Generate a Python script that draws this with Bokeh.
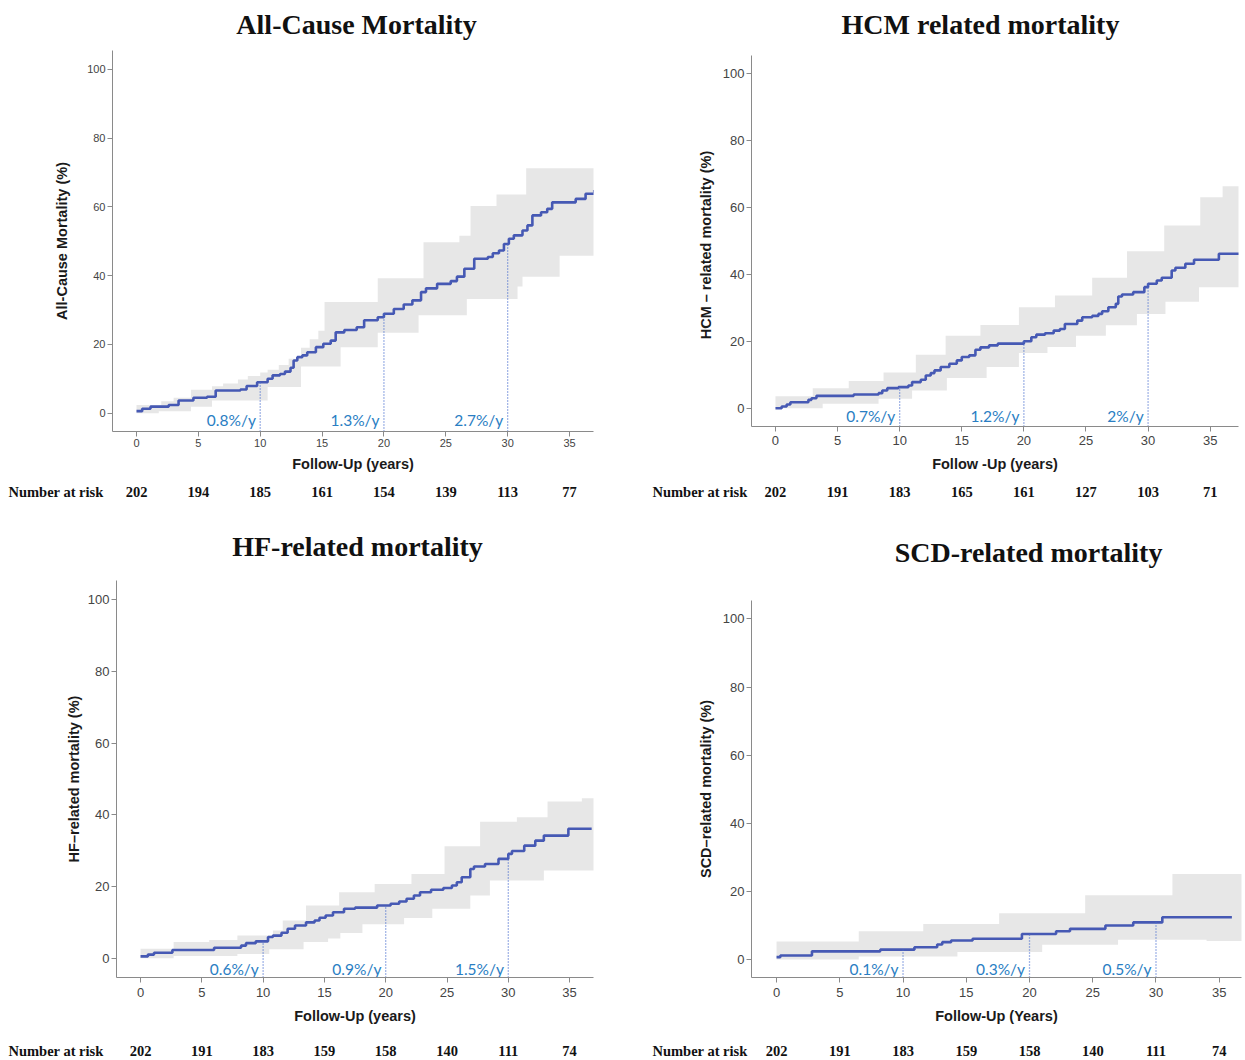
import numpy as np
from bokeh.plotting import figure
from bokeh.models import Range1d, FixedTicker
from bokeh.layouts import row, column
from bokeh.embed import file_html
from bokeh.resources import INLINE
from bokeh.core.properties import value

# ---------------- data ----------------
x_ticks = [0, 5, 10, 15, 20, 25, 30, 35]
y_ticks = [0, 20, 40, 60, 80, 100]
rate_years = [10, 20, 30]

# All-cause mortality
ac_t = [0, 0.46, 1.13, 2.6, 3.4, 4.6, 5.7, 6.4, 8.4, 8.9, 9.75, 10.6, 11.0, 11.6, 12.0, 12.45, 12.7, 13.0,
        13.4, 13.8, 14.5, 15.1, 15.7, 16.1, 16.8, 17.8, 18.4, 19.5, 20.0, 20.8, 21.6, 22.3, 23.0, 23.4, 24.3,
        25.4, 25.9, 26.5, 27.3, 28.4, 28.8, 29.3, 29.7, 30.1, 30.5, 31.2, 31.6, 32.0, 32.7, 33.2, 33.6, 35.5,
        36.3, 37.0]
ac_y = [0.6, 1.3, 1.9, 2.4, 3.7, 4.5, 4.8, 6.6, 6.9, 7.9, 9.0, 10.0, 11.0, 11.4, 12.1, 13.2, 15.3, 16.3,
        16.8, 17.7, 19.2, 20.2, 21.1, 23.5, 24.2, 25.0, 27.0, 27.9, 28.9, 30.3, 31.6, 32.8, 35.2, 36.3, 37.6,
        38.4, 39.7, 42.0, 44.9, 45.4, 46.5, 47.3, 49.2, 50.7, 51.7, 53.1, 54.6, 57.5, 58.4, 59.4, 61.3, 62.3,
        63.8, 64.9]
ac_band_t = [0, 1.8, 2.0, 3.0, 4.4, 6.1, 7.0, 8.2, 9.0, 10.0, 10.6, 11.5, 12.3, 13.3, 14.0, 14.7, 15.2, 16.5,
             19.5, 22.8, 23.2, 26.1, 26.7, 27.0, 29.1, 30.8, 31.2, 31.5, 34.2, 37.2]
ac_lo = [0, 0.6, 0.6, 0.6, 1.9, 3.7, 3.7, 3.7, 3.7, 3.7, 7.6, 7.6, 7.6, 13.6, 13.6, 13.6, 13.6, 19.2,
         23.4, 28.5, 28.5, 28.5, 33.2, 33.2, 33.2, 36.8, 39.7, 39.7, 45.8, 45.8]
ac_hi = [2.4, 2.4, 3.5, 4.5, 6.8, 7.8, 8.6, 9.8, 10.8, 11.8, 12.6, 14.0, 15.8, 19.0, 21.5, 24.0, 32.3, 32.3,
         39.2, 39.2, 49.7, 51.6, 51.6, 60.2, 63.6, 63.6, 63.6, 71.2, 71.2, 71.2]
ac_rates = ["0.8%/y", "1.3%/y", "2.7%/y"]
ac_risk = ["202", "194", "185", "161", "154", "139", "113", "77"]

# HCM related mortality
hcm_t = [0, 0.5, 0.9, 1.2, 2.65, 2.9, 3.3, 6.3, 8.3, 8.6, 9.0, 9.9, 10.7, 11.0, 11.7, 12.1, 12.5, 12.8, 13.3,
         14.0, 14.6, 15.0, 15.6, 16.1, 16.5, 17.2, 17.9, 20.0, 20.6, 21.0, 21.7, 22.4, 22.9, 23.3, 24.3, 24.7,
         25.5, 26.0, 26.3, 26.8, 27.4, 27.6, 27.9, 28.8, 29.7, 30.0, 30.7, 31.1, 31.9, 32.2, 33.0, 33.7, 35.7,
         37.5]
hcm_y = [0, 0.5, 1.1, 1.8, 2.5, 3.0, 3.7, 4.1, 4.5, 5.3, 6.0, 6.3, 6.8, 7.8, 8.5, 9.8, 10.5, 11.3, 12.3,
         13.3, 14.3, 15.3, 15.8, 17.5, 18.2, 18.8, 19.3, 20.0, 21.2, 22.0, 22.4, 23.2, 23.7, 25.2, 26.2, 27.2,
         27.6, 28.2, 29.0, 30.2, 31.2, 33.4, 34.0, 34.7, 36.2, 37.2, 38.2, 39.0, 41.2, 42.0, 43.2, 44.4, 46.2,
         46.2]
hcm_band_t = [0, 3.0, 3.8, 5.9, 8.3, 8.7, 11.0, 11.3, 13.7, 13.8, 16.5, 17.0, 19.6, 21.9, 22.5, 24.2, 25.5,
              26.6, 28.3, 29.1, 31.3, 31.4, 34.1, 34.2, 36.0, 37.5]
hcm_lo = [0, 0, 1.3, 1.3, 2.8, 2.8, 5.3, 5.3, 5.3, 9.0, 9.0, 12.3, 16.5, 18.3, 18.3, 21.7, 21.7,
          24.8, 24.8, 28.2, 28.2, 31.8, 36.2, 36.2, 36.2, 36.2]
hcm_hi = [3.6, 6.0, 6.0, 8.1, 8.1, 10.7, 10.7, 16.0, 21.7, 21.7, 24.9, 24.9, 30.2, 30.2, 33.7, 33.7, 39.0,
          39.0, 46.9, 46.9, 54.6, 54.6, 54.6, 63.1, 66.4, 66.4]
hcm_rates = ["0.7%/y", "1.2%/y", "2%/y"]
hcm_risk = ["202", "191", "183", "165", "161", "127", "103", "71"]

# HF-related mortality
hf_t = [0, 0.6, 1.1, 2.6, 6.0, 8.2, 8.6, 9.4, 10.4, 10.8, 11.5, 12.0, 12.6, 13.5, 14.2, 14.6, 15.1, 15.7,
        16.6, 17.5, 19.3, 20.4, 21.1, 21.7, 22.3, 22.8, 23.7, 24.7, 25.4, 25.8, 26.2, 26.9, 27.2, 28.1, 29.2,
        30.0, 30.3, 31.3, 32.2, 32.9, 34.9, 36.8]
hf_y = [0.5, 1.0, 1.5, 2.3, 2.9, 3.5, 4.2, 4.7, 5.9, 6.3, 7.1, 8.2, 9.1, 10.0, 10.5, 11.3, 11.9, 12.8,
        13.8, 14.1, 14.7, 15.2, 15.8, 16.6, 17.5, 18.4, 19.1, 19.6, 20.3, 21.2, 22.6, 24.9, 25.6, 26.3, 27.7,
        29.1, 29.9, 31.4, 32.8, 34.2, 36.1, 36.1]
hf_band_t = [0, 2.7, 5.6, 7.9, 10.5, 10.8, 11.6, 13.3, 13.5, 15.3, 16.2, 16.3, 18.1, 19.1, 21.5, 22.1, 23.8,
             24.8, 26.9, 27.7, 28.5, 30.7, 32.9, 33.2, 36.0, 37.0]
hf_lo = [0, 0.6, 0.6, 1.2, 2.5, 2.5, 2.5, 4.5, 4.5, 5.5, 5.5, 7.0, 9.5, 9.5, 11.2, 11.2, 13.8,
         13.8, 17.5, 17.5, 21.7, 21.7, 24.5, 24.5, 24.5, 24.5]
hf_hi = [2.6, 4.5, 5.1, 6.3, 6.3, 7.7, 10.5, 10.5, 14.7, 14.7, 18.4, 18.4, 18.4, 20.7, 20.7, 23.5, 23.5,
         31.2, 31.2, 38.1, 38.1, 39.3, 39.3, 43.7, 44.6, 44.6]
hf_rates = ["0.6%/y", "0.9%/y", "1.5%/y"]
hf_risk = ["202", "191", "183", "159", "158", "140", "111", "74"]

# SCD-related mortality
scd_t = [0, 0.3, 2.8, 8.2, 10.9, 12.7, 13.1, 13.8, 15.5, 19.4, 22.1, 23.2, 26.0, 28.2, 30.5, 36.0]
scd_y = [0.7, 1.2, 2.4, 2.9, 3.6, 4.4, 5.1, 5.6, 6.1, 7.5, 8.3, 9.0, 10.0, 10.9, 12.4, 12.4]
scd_band_t = [0, 6.5, 11.6, 14.3, 17.6, 21.0, 24.4, 27.0, 31.3, 34.0, 37.2]
scd_lo = [0, 0.9, 0.9, 2.2, 2.2, 4.3, 4.3, 5.8, 5.8, 5.4, 5.4]
scd_hi = [5.3, 8.3, 10.4, 10.4, 13.6, 13.6, 18.9, 18.9, 25.1, 25.1, 25.1]
scd_rates = ["0.1%/y", "0.3%/y", "0.5%/y"]
scd_risk = ["202", "191", "183", "159", "158", "140", "111", "74"]

# ---------------- style / layout ----------------
CURVE = "#4659b4"
BAND = "#e7e7e7"
DOT = "#4a6fcf"
RATE = "#2a7ec3"
AXIS = "#8a8a8a"
TICKTXT = "#444444"
SERIF = "Liberation Serif"
SANS = "Liberation Sans"

# page-pixel boxes: fig x-span, head/main/foot y-spans, frame box
panels = [
    dict(title="All-Cause Mortality", ylabel="All-Cause Mortality (%)", xlabel="Follow-Up (years)",
         t=ac_t, y=ac_y, bt=ac_band_t, lo=ac_lo, hi=ac_hi, rates=ac_rates, risk=ac_risk,
         fx=(0, 620), head=(0, 40), main=(40, 478), foot=(478, 512), frame=(112, 50, 593, 431),
         xr=(-1.94, 36.94), yr=(-5.32, 105.44),
         tick_size="11px", ylab_standoff=14, xtick_standoff=2, xlab_standoff=6, rate_y=-1.9,
         title_px=(356, 24), risk_py=491, risk_lab_px=8),
    dict(title="HCM related mortality", ylabel="HCM  \u2013  related mortality (%)", xlabel="Follow -Up (years)",
         t=hcm_t, y=hcm_y, bt=hcm_band_t, lo=hcm_lo, hi=hcm_hi, rates=hcm_rates, risk=hcm_risk,
         fx=(620, 1243), head=(0, 40), main=(40, 478), foot=(478, 512), frame=(751, 55, 1238, 426),
         xr=(-1.93, 37.28), yr=(-5.47, 105.47),
         tick_size="13px", ylab_standoff=6, xtick_standoff=4, xlab_standoff=8, rate_y=-2.4,
         title_px=(980, 24), risk_py=491, risk_lab_px=652),
    dict(title="HF-related mortality", ylabel="HF\u2013related mortality (%)", xlabel="Follow-Up (years)",
         t=hf_t, y=hf_y, bt=hf_band_t, lo=hf_lo, hi=hf_hi, rates=hf_rates, risk=hf_risk,
         fx=(0, 620), head=(512, 562), main=(562, 1026), foot=(1026, 1060), frame=(116, 580, 593, 977),
         xr=(-1.96, 36.95), yr=(-5.39, 105.39),
         tick_size="13px", ylab_standoff=3, xtick_standoff=5, xlab_standoff=8, rate_y=-2.9,
         title_px=(357, 546), risk_py=1050, risk_lab_px=8),
    dict(title="SCD-related mortality", ylabel="SCD\u2013related mortality (%)", xlabel="Follow-Up (Years)",
         t=scd_t, y=scd_y, bt=scd_band_t, lo=scd_lo, hi=scd_hi, rates=scd_rates, risk=scd_risk,
         fx=(620, 1243), head=(512, 572), main=(572, 1026), foot=(1026, 1060), frame=(751, 600, 1241, 977),
         xr=(-1.98, 36.76), yr=(-5.28, 105.4),
         tick_size="13px", ylab_standoff=6, xtick_standoff=5, xlab_standoff=8, rate_y=-2.8,
         title_px=(1028, 552), risk_py=1050, risk_lab_px=652),
]


def value_at(ts, ys, t):
    i = int(np.searchsorted(np.asarray(ts), t, side="right")) - 1
    return ys[max(i, 0)]


def blank(width, height, xr, yr):
    q = figure(frame_width=width, frame_height=height,
               min_border_left=0, min_border_right=0, min_border_top=0, min_border_bottom=0,
               x_range=Range1d(*xr), y_range=Range1d(*yr),
               x_axis_location=None, y_axis_location=None,
               output_backend="svg", toolbar_location=None, tools="")
    q.outline_line_color = None
    q.grid.visible = False
    q.border_fill_color = "white"
    q.background_fill_color = "white"
    return q


def make_panel(s):
    fx0, fx1 = s["fx"]
    lx0, ly0, lx1, ly1 = s["frame"]
    my0, my1 = s["main"]
    x0, x1 = s["xr"]
    y0, y1 = s["yr"]
    W = fx1 - fx0
    scale = (lx1 - lx0) / (x1 - x0)  # px per year

    # ---- title strip (page-pixel coordinates) ----
    hy0, hy1 = s["head"]
    head = blank(W, hy1 - hy0, (fx0, fx1), (hy1, hy0))
    tx, ty = s["title_px"]
    head.text(x=[tx], y=[ty], text=[s["title"]], text_align="center", text_baseline="middle",
              text_font=value(SERIF), text_font_size="28px", text_font_style="bold",
              text_color="#111111")

    # ---- main plot ----
    p = figure(frame_width=lx1 - lx0, frame_height=ly1 - ly0,
               min_border_left=lx0 - fx0, min_border_right=fx1 - lx1,
               min_border_top=ly0 - my0, min_border_bottom=my1 - ly1,
               x_range=Range1d(x0, x1), y_range=Range1d(y0, y1),
               output_backend="svg", toolbar_location=None, tools="")
    p.outline_line_color = None
    p.grid.visible = False
    p.border_fill_color = "white"
    p.background_fill_color = "white"

    p.varea_step(x=s["bt"], y1=s["lo"], y2=s["hi"], step_mode="after", fill_color=BAND)
    p.step(x=s["t"], y=s["y"], mode="after", line_color=CURVE, line_width=2.6)

    tops = [value_at(s["t"], s["y"], t) for t in rate_years]
    p.segment(x0=rate_years, y0=[y0] * 3, x1=rate_years, y1=tops,
              line_color=DOT, line_width=1.3, line_dash="1 2")
    p.text(x=[t - 0.35 for t in rate_years], y=[s["rate_y"]] * 3, text=s["rates"],
           text_align="right", text_baseline="middle", text_color=RATE,
           text_font=value("Lato"), text_font_size="15.5px")

    for ax in (p.xaxis[0], p.yaxis[0]):
        ax.axis_line_color = AXIS
        ax.axis_line_width = 1
        ax.major_tick_line_color = AXIS
        ax.major_tick_out = 5
        ax.major_tick_in = 0
        ax.minor_tick_line_color = None
        ax.major_label_text_font = SANS
        ax.major_label_text_font_size = s["tick_size"]
        ax.major_label_text_color = TICKTXT
        ax.axis_label_text_font = SANS
        ax.axis_label_text_font_size = "14.5px"
        ax.axis_label_text_font_style = "bold"
        ax.axis_label_text_color = "#1a1a1a"
    p.xaxis.ticker = FixedTicker(ticks=x_ticks, minor_ticks=[])
    p.yaxis.ticker = FixedTicker(ticks=y_ticks, minor_ticks=[])
    p.xaxis.axis_label = s["xlabel"]
    p.yaxis.axis_label = s["ylabel"]
    p.yaxis.major_label_standoff = 2
    p.yaxis.axis_label_standoff = s["ylab_standoff"]
    p.xaxis.major_label_standoff = s["xtick_standoff"]
    p.xaxis.axis_label_standoff = s["xlab_standoff"]

    # ---- number-at-risk strip (x in follow-up years, aligned with the plot) ----
    fy0, fy1 = s["foot"]
    fxr = (x0 - (lx0 - fx0) / scale, x1 + (fx1 - lx1) / scale)
    foot = blank(W, fy1 - fy0, fxr, (fy1, fy0))
    foot.text(x=x_ticks, y=[s["risk_py"]] * len(x_ticks), text=s["risk"], text_align="center",
              text_baseline="middle", text_font=value(SERIF), text_font_size="14.5px",
              text_font_style="bold", text_color="#111111")
    foot.text(x=[fxr[0] + (s["risk_lab_px"] - fx0) / scale], y=[s["risk_py"]], text=["Number at risk"],
              text_align="left", text_baseline="middle", text_font=value(SERIF),
              text_font_size="14.5px", text_font_style="bold", text_color="#111111")

    return column(row(head), row(p), row(foot))


cols = [make_panel(s) for s in panels]
layout = column(row(cols[0], cols[1]), row(cols[2], cols[3]))

open("out.html", "w").write(file_html(layout, INLINE, "Mortality"))
